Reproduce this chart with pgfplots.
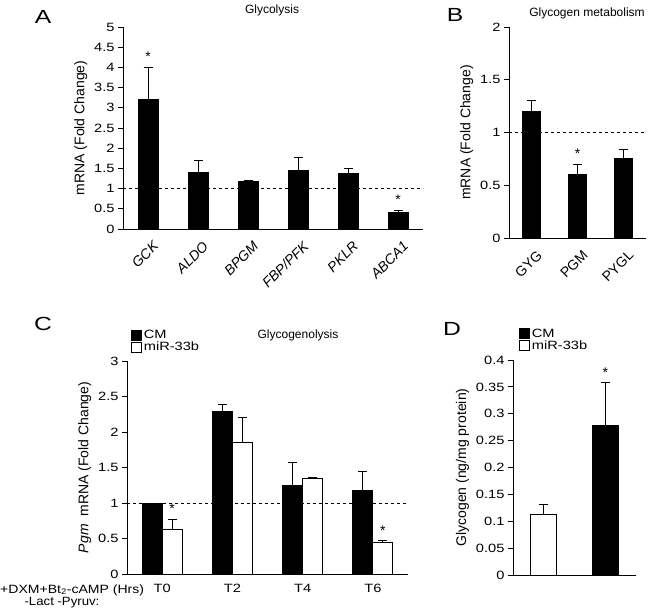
\documentclass[border=0pt]{standalone}
\usepackage{fontspec}
\setmainfont{Liberation Sans}
\usepackage{graphicx}
\usepackage{pgfplots}
\pgfplotsset{compat=1.18}

\newcommand{\tf}{\fontsize{14}{16}\selectfont}
\newcommand{\nf}{\fontsize{12}{14}\selectfont}
\newcommand{\sx}[1]{\scalebox{1.22}[1]{#1}}

\pgfplotsset{
  panel/.style={
    scale only axis, anchor=south west,
    axis x line=bottom, axis y line=left,
    axis line style={-, line width=0.9pt},
    tick style={black, line width=0.9pt},
    tick align=outside,
    major tick length=5pt, minor tick length=6pt,
    x tick style={draw=none},
    minor x tick style={black, line width=0.9pt},
    tick label style={font=\tf},
    yticklabel style={font=\nf},
    label style={font=\tf},
    /pgf/number format/assume math mode=true,
    ybar, ymin=0,
    error bars/y dir=plus, error bars/y explicit,
    error bars/error bar style={line width=0.9pt},
    error bars/error mark options={rotate=90, mark size=4.5pt, line width=0.9pt},
  },
  sq/.style={legend image code/.code={\draw[##1, line width=0.8pt] (0pt,-5pt) rectangle (10pt,5pt);}},
  blk/.style={fill=black, draw=black, line width=0.8pt},
  wht/.style={fill=white, draw=black, line width=0.8pt},
  leg/.style={legend style={at={#1}, anchor=north west, draw=none, fill=none,
    font=\nf, row sep=-2pt, inner sep=1pt},
    legend cell align=left},
}

\begin{document}
\begin{tikzpicture}[x=1pt, y=1pt]
\path[use as bounding box] (0,0) rectangle (650,611);

% ---- A: Glycolysis
\begin{axis}[panel, at={(123pt,382pt)}, width=300pt, height=202pt,
  xmin=-0.5, xmax=5.5, ymax=5, bar width=20pt,
  ytick={0,0.5,...,5},
  yticklabels={\sx{0},\sx{0.5},\sx{1},\sx{1.5},\sx{2},\sx{2.5},\sx{3},\sx{3.5},\sx{4},\sx{4.5},\sx{5}},
  xtick={0,...,5}, minor xtick={-0.5,0.5,...,5.5},
  xticklabels={GCK,ALDO,BPGM,FBP/PFK,PKLR,ABCA1},
  xticklabel style={rotate=45, anchor=north east, font=\tf\itshape, yshift=-4pt, xshift=2pt},
  ylabel={mRNA (Fold Change)}]
\addplot[blk] coordinates {(0,3.2) +- (0,0.8) (1,1.4) +- (0,0.3) (2,1.17) +- (0,0.03)
  (3,1.46) +- (0,0.3) (4,1.37) +- (0,0.14) (5,0.40) +- (0,0.07)};
\addplot[sharp plot, dashed, line width=0.9pt, forget plot] coordinates {(-0.5,1) (5.5,1)};
\node[font=\tf] at (axis cs:0,4.0) [above=2pt] {*};
\node[font=\tf] at (axis cs:5,0.47) [above=2pt] {*};
\end{axis}

% ---- B: Glycogen metabolism
\begin{axis}[panel, at={(509pt,373pt)}, width=137pt, height=211pt,
  xmin=-0.5, xmax=2.5, ymax=2, bar width=18pt,
  ytick={0,0.5,1,1.5,2}, yticklabels={\sx{0},\sx{0.5},\sx{1},\sx{1.5},\sx{2}},
  xtick={0,1,2}, minor xtick={-0.5,0.5,1.5,2.5},
  xticklabels={GYG,PGM,PYGL},
  xticklabel style={rotate=45, anchor=north east, yshift=-4pt, xshift=2pt},
  ylabel={mRNA (Fold Change)}]
\addplot[blk] coordinates {(0,1.2) +- (0,0.1) (1,0.6) +- (0,0.1) (2,0.75) +- (0,0.09)};
\addplot[sharp plot, dashed, line width=0.9pt, forget plot] coordinates {(-0.5,1) (2.5,1)};
\node[font=\tf] at (axis cs:1,0.7) [above=2pt] {*};
\end{axis}

% ---- C: Glycogenolysis
\begin{axis}[panel, at={(127pt,37pt)}, width=281pt, height=213pt,
  xmin=-0.5, xmax=3.5, ymax=3, bar width=20pt,
  ytick={0,0.5,...,3}, yticklabels={\sx{0},\sx{0.5},\sx{1},\sx{1.5},\sx{2},\sx{2.5},\sx{3}},
  xtick={0,...,3}, minor xtick={-0.5,0.5,...,3.5},
  xticklabels={\sx{T0},\sx{T2},\sx{T4},\sx{T6}},
  xticklabel style={font=\nf, yshift=-2pt},
  ylabel={\textit{Pgm}\ \ mRNA (Fold Change)},
  leg={(0.01,1.16)}]
\addplot[blk, sq, bar shift=-10pt] coordinates {(0,1.0) (1,2.29) +- (0,0.1) (2,1.25) +- (0,0.32) (3,1.18) +- (0,0.26)};
\addplot[wht, sq, bar shift=10pt] coordinates {(0,0.63) +- (0,0.14) (1,1.86) +- (0,0.34) (2,1.35) +- (0,0.01) (3,0.44) +- (0,0.03)};
\addplot[sharp plot, dashed, line width=0.9pt, forget plot] coordinates {(-0.5,1) (3.5,1)};
\legend{\sx{CM},\sx{miR-33b}}
\node[font=\tf] at (axis cs:0,0.77) [above=2pt, xshift=10pt] {*};
\node[font=\tf] at (axis cs:3,0.47) [above=2pt, xshift=10pt] {*};
\end{axis}

% ---- D: Glycogen
\begin{axis}[panel, at={(513pt,36pt)}, width=123pt, height=215pt,
  xmin=-0.5, xmax=1.5, ymax=0.4, bar width=26pt,
  ytick={0,0.05,0.1,0.15,0.2,0.25,0.3,0.35,0.4},
  yticklabels={\sx{0},\sx{0.05},\sx{0.1},\sx{0.15},\sx{0.2},\sx{0.25},\sx{0.3},\sx{0.35},\sx{0.4}},
  xtick={0,1}, xticklabels={,}, minor xtick={-0.5,0.5,1.5},
  ylabel={Glycogen (ng/mg protein)},
  leg={(0.04,1.16)}]
\addplot[blk, sq, bar shift=0pt] coordinates {(1,0.278) +- (0,0.080)};
\addplot[wht, sq, bar shift=0pt] coordinates {(0,0.112) +- (0,0.020)};
\legend{\sx{CM},\sx{miR-33b}}
\node[font=\tf] at (axis cs:1,0.358) [above=2pt] {*};
\end{axis}

% titles and panel letters
\node[font=\fontsize{12}{14}\selectfont] at (272,601) {Glycolysis};
\node[font=\fontsize{12}{14}\selectfont] at (587,598) {Glycogen metabolism};
\node[font=\fontsize{12}{14}\selectfont] at (298,276) {Glycogenolysis};
\node[font=\fontsize{19}{22}\selectfont] at (43,594) {\scalebox{1.3}[1]{A}};
\node[font=\fontsize{19}{22}\selectfont] at (455,596) {\scalebox{1.3}[1]{B}};
\node[font=\fontsize{19}{22}\selectfont] at (43,287) {\scalebox{1.3}[1]{C}};
\node[font=\fontsize{19}{22}\selectfont] at (452,282) {\scalebox{1.3}[1]{D}};
\node[font=\nf, anchor=west, inner sep=0pt] at (0,21) {\scalebox{1.17}[1]{+DXM+Bt\textsubscript{2}-cAMP (Hrs)}};
\node[font=\nf] at (62,8) {\scalebox{1.1}[1]{-Lact -Pyruv:}};
\end{tikzpicture}
\end{document}
